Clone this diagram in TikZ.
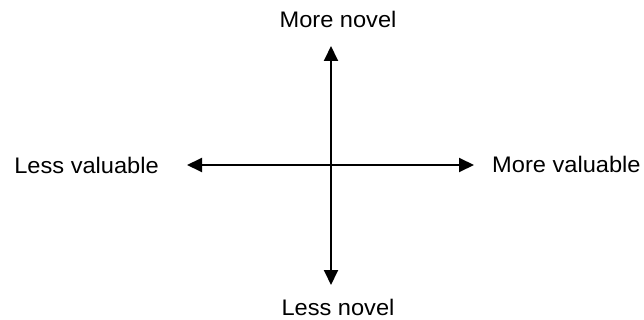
\documentclass[tikz,border=0pt]{standalone}
\usepackage{fontspec}
\setmainfont{Liberation Sans}[FakeStretch=1.05]
\usetikzlibrary{arrows.meta}
\begin{document}
\begin{tikzpicture}[x=1pt,y=-1pt,
  axis/.style={line width=1.9pt,-{Triangle[length=15pt,width=14pt]}},
  lbl/.style={inner sep=0pt,font=\fontsize{22.5}{26}\selectfont}]
\useasboundingbox (0,0) rectangle (644,320);
\coordinate (o) at (331,165);
\coordinate (top) at (331,46);
\coordinate (bot) at (331,285);
\coordinate (lft) at (187,165);
\coordinate (rgt) at (474,165);
\draw[axis] (o) -- (top);
\draw[axis] (o) -- (bot);
\draw[axis] (o) -- (lft);
\draw[axis] (o) -- (rgt);
\node[lbl,anchor=base] (mn) at (338,28) {More novel};
\node[lbl,anchor=base] (ln) at (338,315) {Less novel};
\node[lbl,anchor=base east] (lv) at (159,174) {Less valuable};
\node[lbl,anchor=base west] (mv) at (492,173) {More valuable};
\end{tikzpicture}
\end{document}
